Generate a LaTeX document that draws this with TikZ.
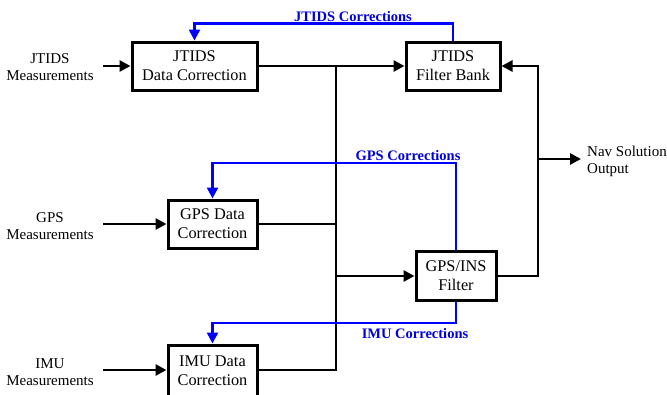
\documentclass[tikz,border=0pt]{standalone}
\usepackage{fontspec}
\setmainfont{Liberation Serif}
\usetikzlibrary{arrows.meta}
\begin{document}
\begin{tikzpicture}[x=1pt,y=-1pt,
  blk/.style={draw=black,line width=3pt,fill=white,align=center,inner sep=0pt,
    minimum height=48pt,font=\fontsize{16.3}{19}\selectfont},
  txt/.style={align=center,font=\fontsize{15}{17}\selectfont,inner sep=0pt},
  lbl/.style={text=blue!85!black,font=\bfseries\fontsize{14.5}{17}\selectfont,inner sep=0pt},
  wire/.style={line width=2.9pt,black},
  bwire/.style={line width=2.6pt,blue},
  tip/.style={-{Triangle[length=11pt,width=11pt]}}]
\useasboundingbox (0,0) rectangle (667,394);
% boxes
\node[blk,minimum width=125pt] (jdc) at (194.5,66) {JTIDS\\Data Correction};
\node[blk,minimum width=94pt] (jfb) at (453,66) {JTIDS\\Filter Bank};
\node[blk,minimum width=89pt] (gdc) at (212.5,224) {GPS Data\\Correction};
\node[blk,minimum width=80pt,minimum height=49pt] (gif) at (456,275.5) {GPS/INS\\Filter};
\node[blk,minimum width=89pt,minimum height=52pt] (idc) at (212.5,371) {IMU Data\\Correction};
% texts
\node[txt] (jm) at (50,67) {JTIDS\\Measurements};
\node[txt] (gm) at (50,226) {GPS\\Measurements};
\node[txt] (im) at (50,372) {IMU\\Measurements};
\node[txt,anchor=west,align=left] (nav) at (587,161) {Nav Solution\\Output};
\node[lbl] (jcl) at (353,17) {JTIDS Corrections};
\node[lbl] (gcl) at (408,156) {GPS Corrections};
\node[lbl] (icl) at (415,334) {IMU Corrections};
% coordinates
\coordinate (ja) at (103,66);
\coordinate (ga) at (103,224);
\coordinate (ia) at (103,370);
\coordinate (bt) at (336,66);
\coordinate (bb) at (336,370);
\coordinate (bg) at (336,276);
\coordinate (rt) at (538,66);
\coordinate (rb) at (538,276);
\coordinate (rn) at (538,159);
\coordinate (no) at (581,159);
% inputs
\draw[wire,tip] (ja) -- (jdc.west);
\draw[wire,tip] (ga) -- (gdc.west);
\draw[wire,tip] (ia) -- (idc.west |- ia);
% bus
\draw[wire,tip] (jdc.east) -- (jfb.west);
\draw[wire] (bt) -- (bb) -- (idc.east |- bb);
\draw[wire] (gdc.east) -- (gdc.east -| bt);
\draw[wire,tip] (bg) -- (gif.west |- bg);
% right side
\draw[wire,tip] (gif.east |- rb) -- (rb) -- (rt) -- (jfb.east);
\draw[wire,tip] (rn) -- (no);
% corrections
\draw[bwire,tip] (jfb.north) -- ++(0,-17) -| (jdc.north);
\draw[bwire,tip] (gif.north) -- (456,163) -| (gdc.north);
\draw[bwire,tip] (gif.south) -- (456,323) -| (idc.north);
\end{tikzpicture}
\end{document}
